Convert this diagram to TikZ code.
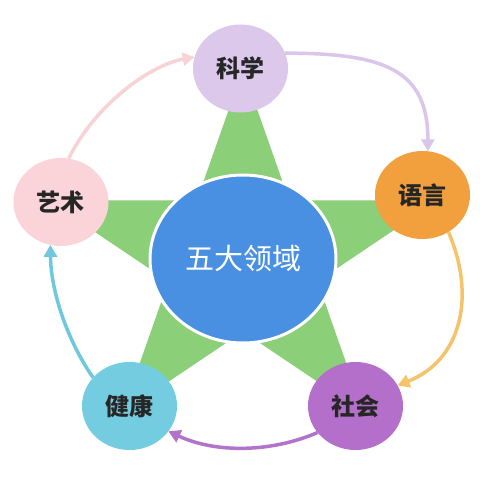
\documentclass[tikz,border=0pt]{standalone}
\usepackage{fontspec}
\newfontfamily\cjk{Noto Sans CJK SC}
\usetikzlibrary{shapes.geometric,arrows.meta}
\definecolor{stargreen}{HTML}{8BCF78}
\definecolor{ctrblue}{HTML}{4A90E2}
\definecolor{kxc}{HTML}{DCC8EA}
\definecolor{yyc}{HTML}{F2A03D}
\definecolor{shc}{HTML}{B36FC9}
\definecolor{jkc}{HTML}{74CCE0}
\definecolor{ysc}{HTML}{FAD4D8}
\definecolor{kxa}{HTML}{D9C6EA}
\definecolor{yya}{HTML}{F5C46A}
\definecolor{sha}{HTML}{B274CA}
\definecolor{jka}{HTML}{6FC8DD}
\definecolor{ysa}{HTML}{F8D3D6}
\begin{document}
\begin{tikzpicture}[x=1pt,y=1pt,
  bubble/.style={ellipse, minimum width=95pt, minimum height=88pt, inner sep=0pt, outer sep=0pt,
    font=\cjk\bfseries\fontsize{24}{24}\selectfont, text=black!85},
  link/.style={line width=3.5pt, -{Triangle[width=13pt,length=12pt]}}]
\useasboundingbox (0,0) rectangle (480,480);
\fill[white] (0,0) rectangle (480,480);
\begin{scope}[shift={(243,221)}, xscale=1.08]
\fill[stargreen] (90:190) -- (54:72.6) -- (18:190) -- (-18:72.6) -- (-54:190) -- (-90:72.6)
  -- (-126:190) -- (-162:72.6) -- (162:190) -- (126:72.6) -- cycle;
\end{scope}
\node[bubble, fill=kxc] (kx) at (240.5,411.5) {科学};
\node[bubble, fill=yyc] (yy) at (422.5,285) {语言};
\node[bubble, fill=shc] (sh) at (355.5,74) {社会};
\node[bubble, fill=jkc] (jk) at (129.5,74) {健康};
\node[bubble, fill=ysc] (ys) at (61,278) {艺术};
\node[ellipse, minimum width=186pt, minimum height=168pt, inner sep=0pt, fill=ctrblue, draw=white,
  line width=3pt, text=white, font=\cjk\fontsize{29}{29}\selectfont] (ctr) at (243,221) {五大领域};
\draw[link, color=kxa] (kx.19) .. controls (385,427) and (428,410) .. (yy.83);
\draw[link, color=yya] (yy.-55) .. controls (476,185) and (462,120) .. (sh.26);
\draw[link, color=sha] (sh.215) .. controls (270,27) and (215,27) .. (jk.-33);
\draw[link, color=jka] (jk.142) .. controls (70,135) and (51,185) .. (ys.256);
\draw[link, color=ysa] (ys.80) .. controls (95,375) and (150,415) .. (kx.166);
\end{tikzpicture}
\end{document}
